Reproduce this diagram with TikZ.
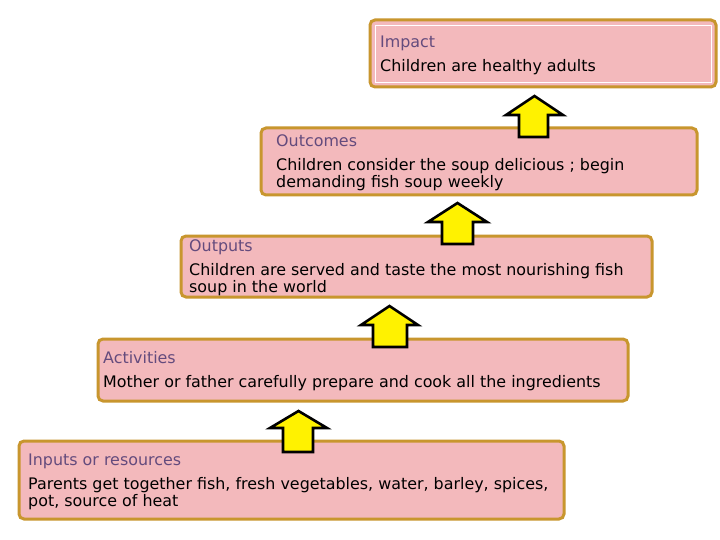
\documentclass[tikz,border=0pt]{standalone}
\usepackage{fontspec}
\setmainfont{DejaVu Sans}
\begin{document}
\begin{tikzpicture}[x=1pt,y=-1pt,
  box/.style={draw=boxgold,line width=3pt,fill=boxpink,rounded corners=5pt},
  ttl/.style={anchor=mid west,inner sep=0pt,text=ttlcol,font=\fontsize{15.9}{18}\selectfont},
  bdy/.style={anchor=mid west,inner sep=0pt,text=black,font=\fontsize{15.9}{18}\selectfont},
  uparrow/.style={draw=black,line width=2.6pt,fill=yellow,line join=miter}]
\definecolor{boxgold}{RGB}{200,150,46}
\definecolor{boxpink}{RGB}{243,185,188}
\definecolor{ttlcol}{RGB}{100,75,125}
\useasboundingbox (0,0) rectangle (720,540);
\fill[white] (0,0) rectangle (720,540);
% boxes
\draw[box] (370,20) rectangle (716,87);
\draw[white,line width=0.8pt] (375,25) rectangle (711,82);
\coordinate (impact) at (543,87);
\draw[box] (261,128) rectangle (697,195);
\coordinate (outcomes) at (479,195);
\draw[box] (181,236) rectangle (652,297);
\coordinate (outputs) at (416,297);
\draw[box] (98,339) rectangle (628,401);
\coordinate (activities) at (363,401);
\draw[box] (19,441) rectangle (564,519);
\coordinate (inputs) at (291,519);
% texts
\node[ttl] (t1) at (380,45) {Impact};
\node[bdy] (b1) at (380,69) {Children are healthy adults};
\node[ttl] (t2) at (276,144) {Outcomes};
\node[bdy] (b2a) at (276,168) {Children consider the soup delicious ; begin};
\node[bdy] (b2b) at (276,185) {demanding fish soup weekly};
\node[ttl] (t3) at (189,249) {Outputs};
\node[bdy] (b3a) at (189,273) {Children are served and taste the most nourishing fish};
\node[bdy] (b3b) at (189,290) {soup in the world};
\node[ttl] (t4) at (103,361) {Activities};
\node[bdy] (b4) at (103,385) {Mother or father carefully prepare and cook all the ingredients};
\node[ttl] (t5) at (28,463) {Inputs or resources};
\node[bdy] (b5a) at (28,487) {Parents get together fish, fresh vegetables, water, barley, spices,};
\node[bdy] (b5b) at (28,504) {pot, source of heat};
% arrows
\draw[uparrow] (283,452) -- (283,428) -- (270,428) -- (298.5,411) -- (327,428) -- (313,428) -- (313,452) -- cycle;
\draw[uparrow] (373,347) -- (373,325) -- (361,325) -- (389.5,306) -- (418,325) -- (407,325) -- (407,347) -- cycle;
\draw[uparrow] (442,244) -- (442,222) -- (428,222) -- (457.5,203) -- (487,222) -- (473,222) -- (473,244) -- cycle;
\draw[uparrow] (519,137) -- (519,115) -- (506,115) -- (534.5,96) -- (563,115) -- (548,115) -- (548,137) -- cycle;
\end{tikzpicture}
\end{document}
